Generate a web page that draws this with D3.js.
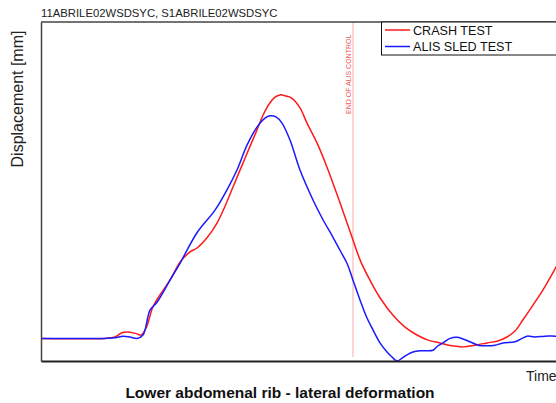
<!DOCTYPE html>
<html>
<head>
<meta charset="utf-8">
<script src="https://cdn.jsdelivr.net/npm/d3@7"></script>
<style>
  body { margin: 0; background: #fff; }
  svg { display: block; font-family: Arial, "Liberation Sans", sans-serif; }
</style>
</head>
<body>
<div id="chart"></div>
<script>
// data (time in ms, displacement in mm)
var crashTime = [0, 16, 18.5, 20.25, 22.25, 24, 25, 26.25, 28, 29.75, 32.25, 34.75, 37.25, 39, 41.5, 44, 46, 48, 51, 54, 55.5, 57.25, 58.5, 59.75, 61.25, 62.75, 64.75, 66.5, 69, 71.5, 74.75, 78, 80, 82.25, 84.75, 88, 91, 94, 96.75, 99.75, 102.75, 105.5, 108.5, 111.5, 114, 116.5, 118.5, 120.5, 123, 125.5, 128.75, 132.25];
var crashDisp = [0, 0, 0.25, 1.0, 1.1, 0.8, 0.6, 1.8, 5.6, 7.7, 10.3, 13.5, 15.3, 16.0, 17.8, 20.4, 23.4, 26.8, 31.9, 36.9, 39.5, 41.7, 42.7, 43.1, 42.9, 42.5, 40.8, 38.1, 34.6, 30.3, 24.0, 17.4, 13.5, 10.3, 7.2, 4.1, 2.0, 0.6, -0.3, -0.8, -1.3, -1.5, -1.2, -0.8, -0.5, 0.25, 1.3, 3.3, 5.9, 8.6, 12.6, 17.1];

var sledTime = [0, 16, 18.5, 20.5, 22.25, 24, 25.5, 27.25, 29, 32.25, 34.75, 39, 43.5, 46.5, 49, 51.5, 54, 56, 57.25, 58.75, 60.25, 62.25, 64.75, 68, 70.5, 73, 74.75, 76.5, 78, 79.75, 81.5, 83, 84.75, 86.5, 87.75, 89, 90.25, 91.5, 93, 94.75, 96.5, 98, 99.25, 100.5, 102.25, 104, 105.5, 107.25, 109.25, 111.5, 113.5, 115.5, 118.5, 120.25, 121.5, 123.5, 126, 128.75, 139.75];
var sledDisp = [0, 0, 0.1, 0.4, 0.25, 0, 0.6, 5.0, 6.4, 10.3, 13.3, 18.7, 22.7, 26.3, 29.8, 34.2, 37.4, 39.0, 39.4, 39.2, 38.1, 35.1, 29.8, 24.5, 21.0, 17.9, 15.6, 13.3, 10.3, 6.8, 3.6, 1.5, -0.8, -2.4, -3.3, -4.0, -3.5, -2.9, -2.4, -2.2, -2.2, -2.1, -1.3, -0.8, 0, 0.2, -0.1, -0.6, -1.2, -1.3, -1.2, -0.8, -0.6, 0, 0.4, 0.25, 0.4, 0.4, 0.4];

var seriesNames = ["CRASH TEST", "ALIS SLED TEST"];
var seriesColors = ["#ff1a1a", "#1a1aff"];
var endOfControl = 78;

var svgWidth = 556, svgHeight = 403;
var margin = { top: 22, left: 41, bottom: 42 };
var plotRight = 601;

var svg = d3.select("#chart").append("svg")
  .attr("width", svgWidth)
  .attr("height", svgHeight);

var xScale = d3.scaleLinear().domain([0, 140]).range([margin.left, plotRight]);
var yScale = d3.scaleLinear().domain([-4, 56]).range([svgHeight - margin.bottom, margin.top]);

// header text
svg.append("text")
  .attr("x", 41)
  .attr("y", 17)
  .attr("font-size", "11.3px")
  .attr("fill", "#222")
  .text("11ABRILE02WSDSYC, S1ABRILE02WSDSYC");

// end of ALIS control marker
svg.append("line")
  .attr("x1", xScale(endOfControl))
  .attr("x2", xScale(endOfControl))
  .attr("y1", margin.top)
  .attr("y2", svgHeight - margin.bottom - 4)
  .attr("stroke", "#fbc6c6")
  .attr("stroke-width", 1.5);

svg.append("text")
  .attr("transform", `translate(${xScale(endOfControl) - 2}, 114) rotate(-90)`)
  .attr("font-size", "7px")
  .attr("fill", "#f05a5a")
  .text("END OF ALIS CONTROL");

// curves
var line = d3.line()
  .x(d => xScale(d[0]))
  .y(d => yScale(d[1]))
  .curve(d3.curveCatmullRom.alpha(0.5));

var crash = crashTime.map((t, i) => [t, crashDisp[i]]);
var sled = sledTime.map((t, i) => [t, sledDisp[i]]);

svg.append("path")
  .datum(crash)
  .attr("d", line)
  .attr("fill", "none")
  .attr("stroke", seriesColors[0])
  .attr("stroke-width", 1.5);

svg.append("path")
  .datum(sled)
  .attr("d", line)
  .attr("fill", "none")
  .attr("stroke", seriesColors[1])
  .attr("stroke-width", 1.5);

// frame from axes without ticks
var leftAxis = d3.axisLeft(yScale).ticks(0).tickSizeOuter(0);
var bottomAxis = d3.axisBottom(xScale).ticks(0).tickSizeOuter(0);

svg.append("g")
  .attr("transform", `translate(${margin.left}, 0)`)
  .call(leftAxis)
  .select(".domain")
  .attr("stroke", "#444")
  .attr("stroke-width", 1.5);

svg.append("g")
  .attr("transform", `translate(0, ${svgHeight - margin.bottom})`)
  .call(bottomAxis)
  .select(".domain")
  .attr("stroke", "#222")
  .attr("stroke-width", 2);

svg.append("line")
  .attr("x1", margin.left)
  .attr("x2", plotRight)
  .attr("y1", margin.top)
  .attr("y2", margin.top)
  .attr("stroke", "#444")
  .attr("stroke-width", 1.5);

// legend
var legend = svg.append("g");
legend.append("rect")
  .attr("x", 381.5)
  .attr("y", margin.top)
  .attr("width", 240)
  .attr("height", 33)
  .attr("fill", "#fff")
  .attr("stroke", "#111")
  .attr("stroke-width", 1);

seriesNames.forEach(function(name, i) {
  var ly = 30 + i * 16.5;
  legend.append("line")
    .attr("x1", 385)
    .attr("x2", 410)
    .attr("y1", ly)
    .attr("y2", ly)
    .attr("stroke", seriesColors[i])
    .attr("stroke-width", 1.5);
  legend.append("text")
    .attr("x", 413)
    .attr("y", ly + 4.5)
    .attr("font-size", "12.6px")
    .attr("fill", "#111")
    .text(name);
});

// axis titles
svg.append("text")
  .attr("transform", "translate(23, 99) rotate(-90)")
  .attr("text-anchor", "middle")
  .attr("font-size", "16px")
  .attr("fill", "#222")
  .text("Displacement [mm]");

svg.append("text")
  .attr("x", 526)
  .attr("y", 381)
  .attr("font-size", "14px")
  .attr("fill", "#222")
  .text("Time [ms]");

svg.append("text")
  .attr("x", 280)
  .attr("y", 398)
  .attr("text-anchor", "middle")
  .attr("font-size", "15.5px")
  .attr("font-weight", "bold")
  .attr("fill", "#111")
  .text("Lower abdomenal rib - lateral deformation");
</script>
</body>
</html>
